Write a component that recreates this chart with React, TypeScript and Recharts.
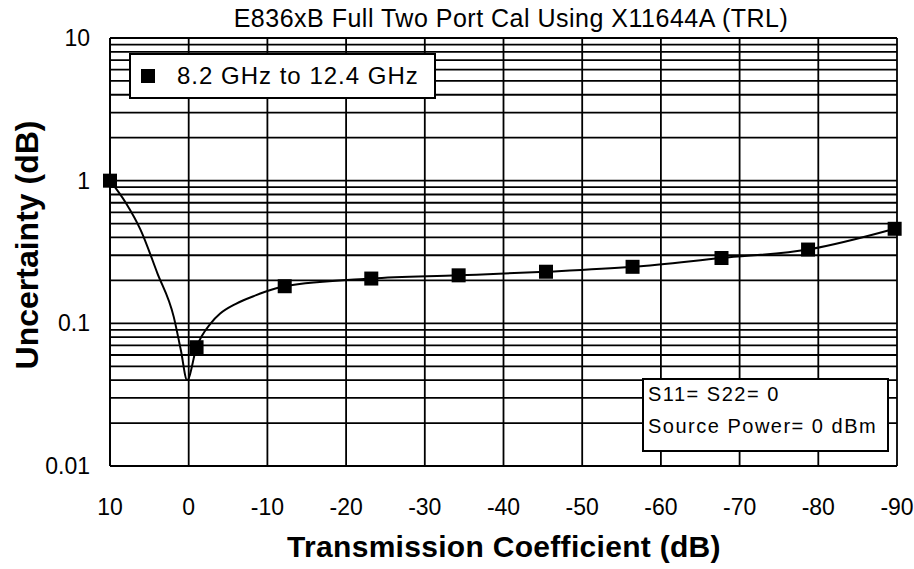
import { ComposedChart, Line, Scatter, XAxis, YAxis, CartesianGrid, Legend } from "recharts";

// transmission coefficient (dB) vs uncertainty (dB)
const curveX = [10, 8, 6.1, 4, 1.9, 1, 0.2, -1, -2.8, -4, -6, -8.5, -10.5, -12.2, -23.2, -34.3, -45.4, -56.4, -67.7, -78.7, -89.7];
const curveY = [1.0, 0.7, 0.45, 0.226, 0.111, 0.065, 0.04, 0.068, 0.1, 0.117, 0.137, 0.157, 0.172, 0.182, 0.206, 0.217, 0.23, 0.249, 0.287, 0.329, 0.46];

const markerX = [10, -1, -12.2, -23.2, -34.3, -45.4, -56.4, -67.7, -78.7, -89.7];
const markerY = [1.0, 0.068, 0.182, 0.206, 0.217, 0.23, 0.249, 0.287, 0.329, 0.46];

const xTicks = [10, 0, -10, -20, -30, -40, -50, -60, -70, -80, -90];
const yMajor = [0.01, 0.1, 1, 10];
const yGrid = [
  0.01, 0.02, 0.03, 0.04, 0.05, 0.06, 0.07, 0.08, 0.09,
  0.1, 0.2, 0.3, 0.4, 0.5, 0.6, 0.7, 0.8, 0.9,
  1, 2, 3, 4, 5, 6, 7, 8, 9, 10,
];

const seriesName = "8.2 GHz to 12.4 GHz";
const title = "E836xB Full Two Port Cal Using X11644A (TRL)";
const xTitle = "Transmission Coefficient (dB)";
const yTitle = "Uncertainty (dB)";
const noteLines = ["S11= S22= 0", "Source Power= 0 dBm"];

const curve = curveX.map((x, i) => ({ x, y: curveY[i] }));
const markers = markerX.map((x, i) => ({ x, y: markerY[i] }));

const font = '"Liberation Sans", Arial, sans-serif';

const Square = (p: any) => <rect x={p.cx - 7} y={p.cy - 7} width={14} height={14} fill="#000" />;

const LegendBox = () => (
  <div
    style={{
      width: 307,
      height: 46,
      boxSizing: "border-box",
      border: "2px solid #000",
      background: "#fff",
      display: "flex",
      alignItems: "center",
      fontFamily: font,
      fontSize: 24,
      letterSpacing: 1,
      color: "#000",
    }}
  >
    <div style={{ width: 14, height: 14, background: "#000", marginLeft: 10, marginRight: 22 }} />
    <span>{seriesName}</span>
  </div>
);

export default function App() {
  return (
    <div style={{ position: "absolute", left: 0, top: 0, width: 914, height: 569, background: "#fff" }}>
      <ComposedChart width={914} height={569} margin={{ top: 38, right: 17, bottom: 43, left: 0 }}>
        <CartesianGrid stroke="#000" strokeWidth={1.8} />
        <XAxis
          type="number"
          dataKey="x"
          domain={[-90, 10]}
          reversed
          ticks={xTicks}
          interval={0}
          height={60}
          tickLine={false}
          tickSize={0}
          tickMargin={33}
          axisLine={{ stroke: "#000", strokeWidth: 1.8 }}
          tick={{ fontSize: 23, fill: "#000", fontFamily: font }}
        />
        <YAxis
          type="number"
          dataKey="y"
          scale="log"
          domain={[0.01, 10]}
          ticks={yGrid}
          interval={0}
          width={110}
          tickLine={false}
          tickSize={0}
          tickMargin={20}
          axisLine={{ stroke: "#000", strokeWidth: 1.8 }}
          tick={{ fontSize: 23, fill: "#000", fontFamily: font }}
          tickFormatter={(v: number) => (yMajor.includes(v) ? String(v) : "")}
        />
        <Legend
          layout="horizontal"
          verticalAlign="middle"
          align="center"
          content={() => <LegendBox />}
          wrapperStyle={{ position: "absolute", left: 129, top: 53, width: 307, height: 46 }}
        />
        <Line
          data={curve}
          dataKey="y"
          type="monotone"
          stroke="#000"
          strokeWidth={2}
          dot={false}
          activeDot={false}
          legendType="none"
          isAnimationActive={false}
        />
        <Scatter data={markers} dataKey="y" name={seriesName} shape={Square} isAnimationActive={false} />
      </ComposedChart>
      <svg
        width={914}
        height={569}
        style={{ position: "absolute", left: 0, top: 0, pointerEvents: "none", fontFamily: font }}
      >
        <text x={511} y={27} textAnchor="middle" fontSize={25} letterSpacing={0.5} fill="#000">
          {title}
        </text>
        <text x={504} y={557} textAnchor="middle" fontSize={30} fontWeight="bold" letterSpacing={0.3} fill="#000">
          {xTitle}
        </text>
        <text
          x={0}
          y={0}
          transform="translate(38 245) rotate(-90)"
          textAnchor="middle"
          fontSize={32}
          fontWeight="bold"
          fill="#000"
        >
          {yTitle}
        </text>
        <rect x={643} y={379} width={245} height={72} fill="#fff" stroke="#000" strokeWidth={2} />
        <text x={648} y={401} fontSize={20} letterSpacing={1.5} fill="#000">
          {noteLines[0]}
        </text>
        <text x={648} y={433} fontSize={20} letterSpacing={1.5} fill="#000">
          {noteLines[1]}
        </text>
      </svg>
    </div>
  );
}
